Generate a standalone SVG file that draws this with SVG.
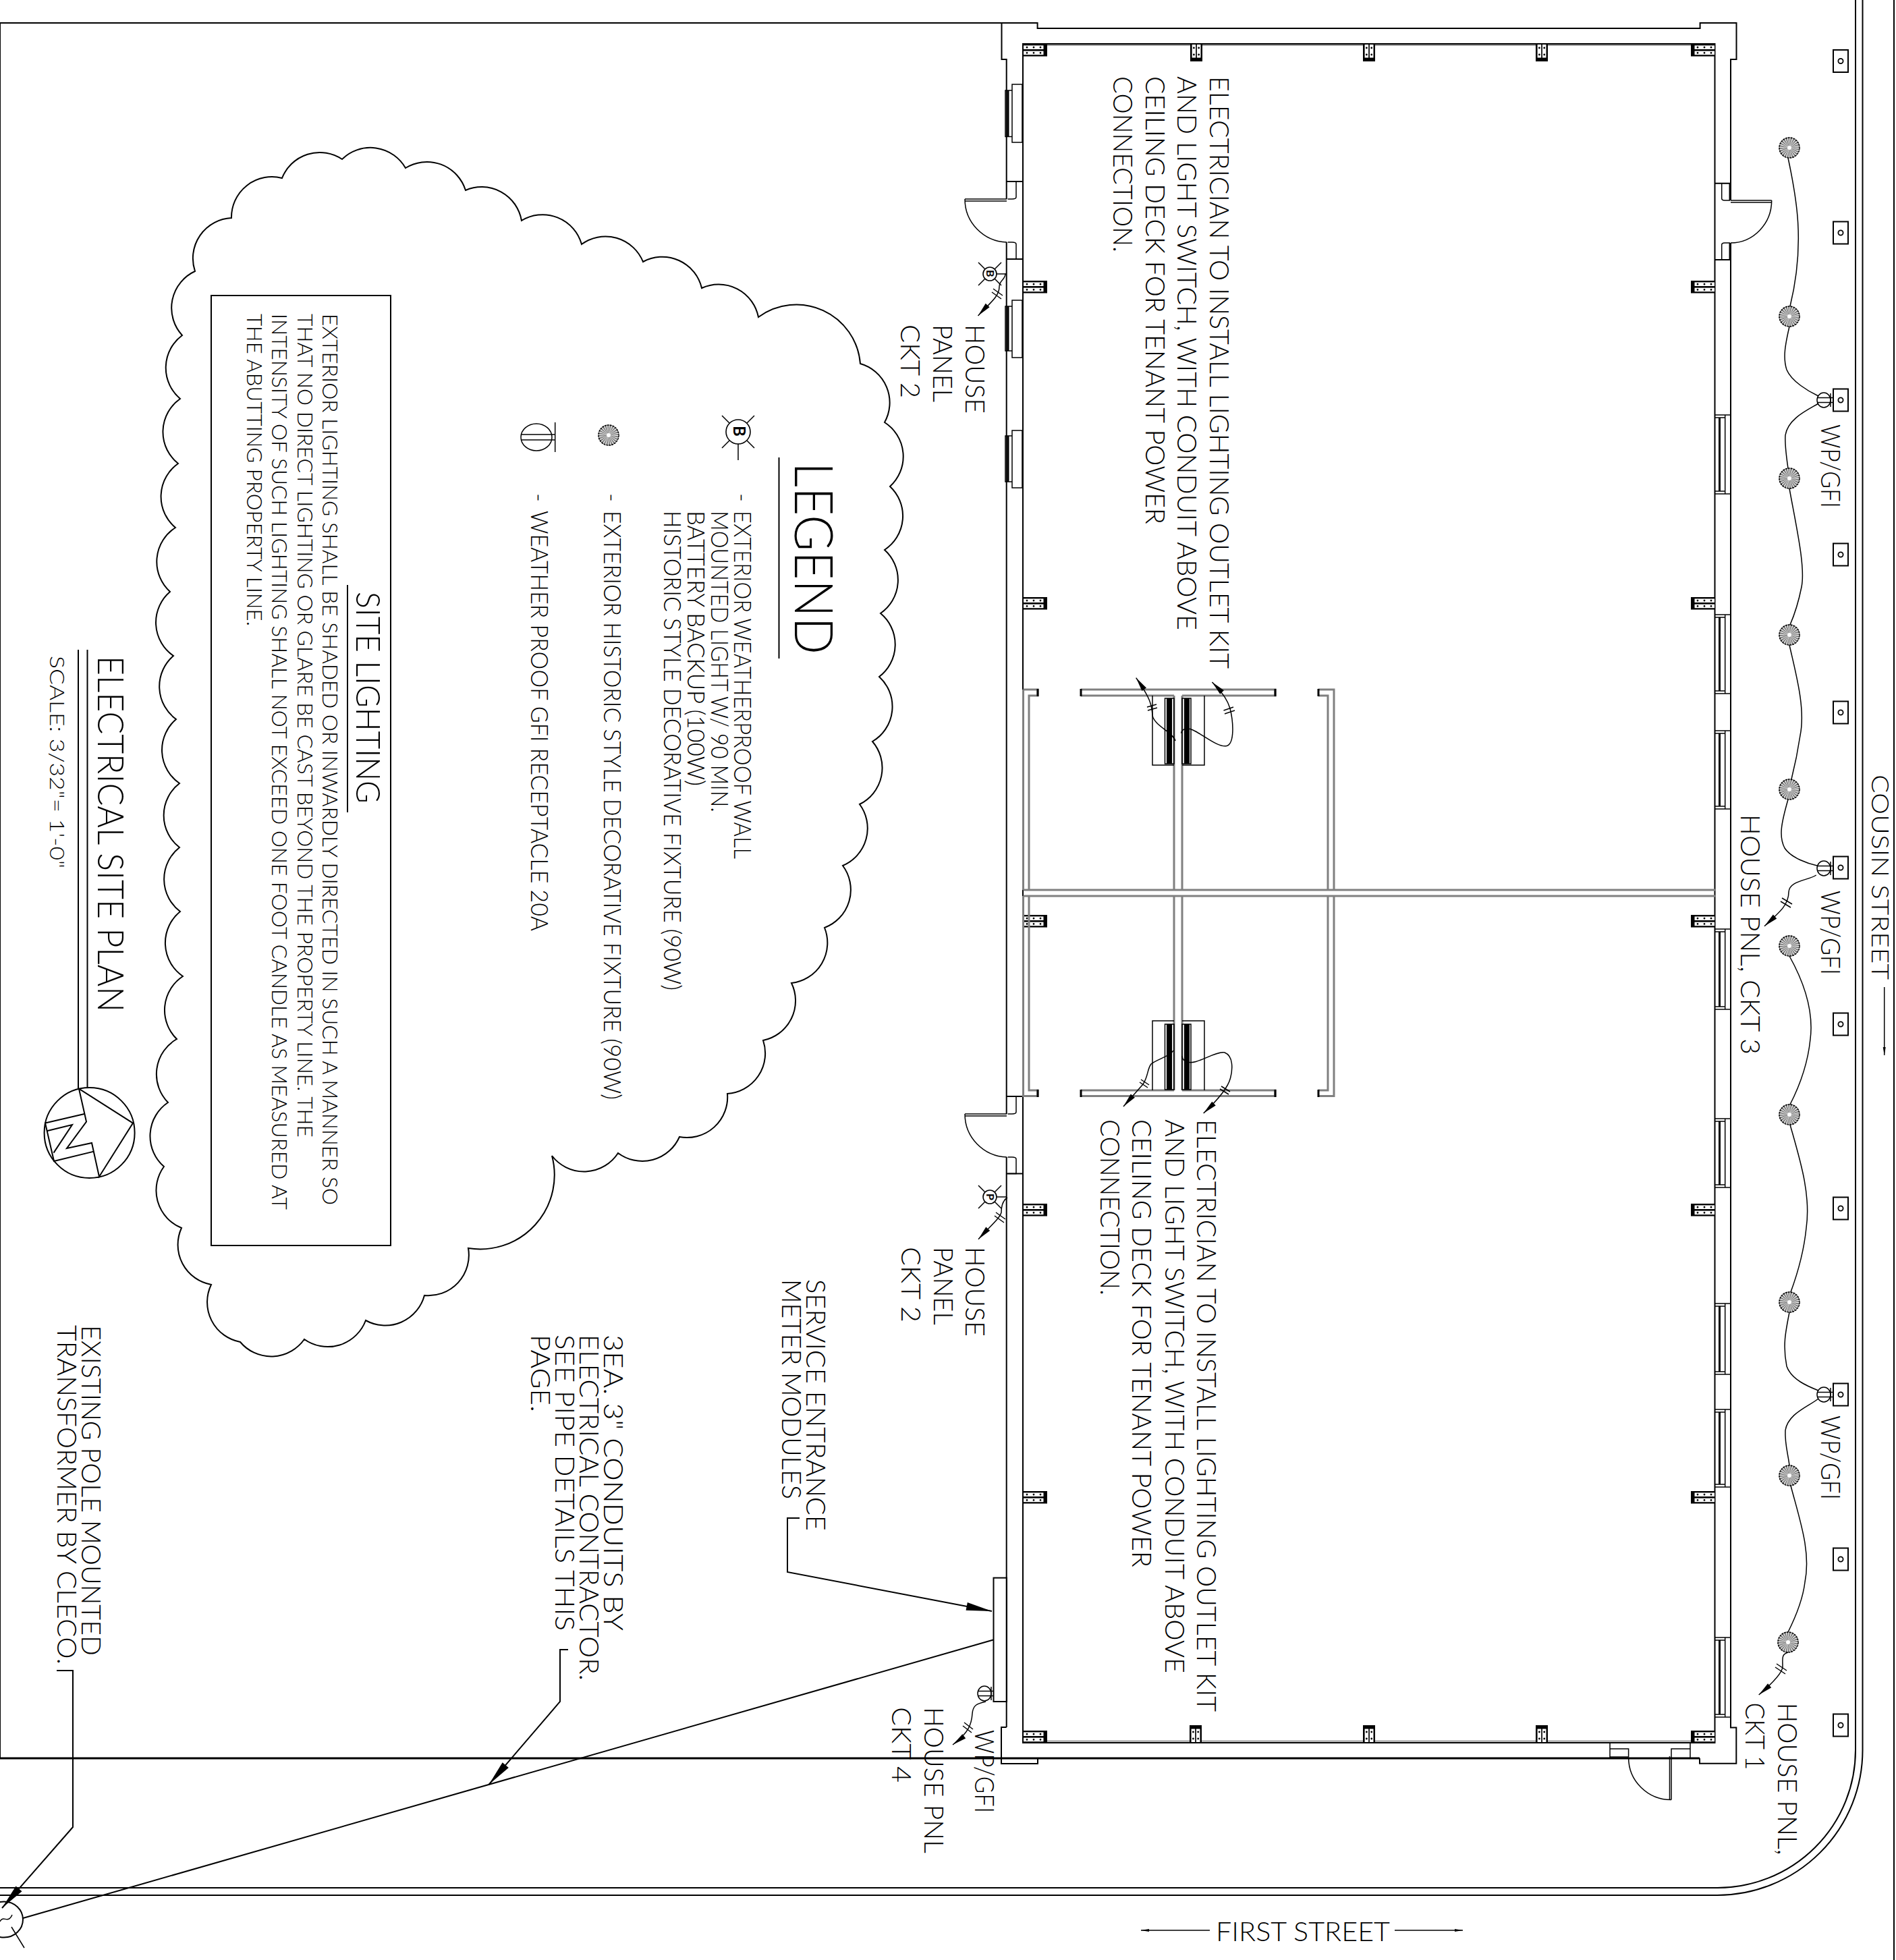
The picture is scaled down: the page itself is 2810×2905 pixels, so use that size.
<svg xmlns="http://www.w3.org/2000/svg" xmlns:xlink="http://www.w3.org/1999/xlink" width="2810" height="2905" viewBox="0 0 2810 2905">
<style>
text{font-family:"Lato","Liberation Sans",sans-serif;font-weight:300;fill:#000;}
.l{fill:none;stroke:#000;stroke-width:2;}
.t{fill:none;stroke:#000;stroke-width:1.5;}
.k{fill:none;stroke:#000;stroke-width:3;}
.g{fill:none;stroke:#808080;stroke-width:3;}
.f40{font-size:40px;}
.f36{font-size:35px;}
.f32{font-size:31px;}
</style>
<defs>
<marker id="big" markerUnits="userSpaceOnUse" markerWidth="42" markerHeight="16" refX="40" refY="8" orient="auto"><path d="M2 2L40 8L2 14Z" fill="#000"/></marker>
<marker id="small" markerUnits="userSpaceOnUse" markerWidth="24" markerHeight="10" refX="22" refY="5" orient="auto"><path d="M1 1L22 5L1 9Z" fill="#000"/></marker>
<marker id="tiny" markerUnits="userSpaceOnUse" markerWidth="14" markerHeight="6" refX="13" refY="3" orient="auto"><path d="M1 1L13 3L1 5Z" fill="#000"/></marker>
<g id="colS"><rect width="36" height="18.5" fill="#000"/><rect x="1" y="2.4" width="29.5" height="5.6" fill="#fff"/><rect x="1" y="10.6" width="29.5" height="5.6" fill="#fff"/><path d="M6 5.2h.01M16 5.2h.01M26 5.2h.01M6 13.4h.01M16 13.4h.01M26 13.4h.01" stroke="#000" stroke-width="2.8" stroke-linecap="round"/></g>
<g id="colT"><rect width="18" height="26" fill="#000"/><rect x="2.6" y="1" width="5.6" height="19.5" fill="#fff"/><rect x="9.9" y="1" width="5.6" height="19.5" fill="#fff"/><path d="M5.4 6v.01M5.4 16v.01M12.7 6v.01M12.7 16v.01" stroke="#000" stroke-width="2.8" stroke-linecap="round"/></g>
<g id="light"><circle r="15" fill="#808080" stroke="#000" stroke-width="1.6" stroke-dasharray="3 1"/><circle r="8.5" fill="none" stroke="#fff" stroke-width="12" stroke-dasharray=".7 1.525"/><circle r="3" fill="#fff"/></g>
<g id="box"><rect x="-11" y="-16.5" width="22" height="33" fill="#fff" stroke="#000" stroke-width="2"/><circle r="3.6" fill="none" stroke="#000" stroke-width="1.8"/></g>
<g id="recep"><ellipse rx="10" ry="11" fill="#fff" stroke="#000" stroke-width="1.5"/><path d="M-10-3.5H13M-10 3.5H13" class="t"/><path d="M10-10V10" class="t"/></g>
<g id="lamp"><circle r="10" fill="#fff" stroke="#000" stroke-width="1.6"/><path d="M7.5-7.5L17-17M-7.5-7.5L-17-17M7.5 7.5L17 17M-7.5 7.5L-17 17M10 0H25" class="t"/></g>
</defs>
<rect width="2810" height="2905" fill="#fff"/>

<g id="site">
<path d="M0 34H1484M0 34V2606" class="l"/>
<path d="M0 2606H2519" class="k"/>
<path d="M2750 0V2594A205 204 0 0 1 2545 2798H0" class="l"/>
<path d="M2760.5 0V2594A216 215 0 0 1 2545 2809H0" class="l"/>
<path d="M2807 0V2905" class="l"/>
</g>

<g id="building">
<path d="M1491.7 2560V1715M1491.7 1651V359M1491.7 295V88H1484.5V34H1537.6V42H2519.6V34H2573.5V88H2565V297M2565 360V2560.6H2573.3V2613.7H2519V2606M1491.7 2560H1484V2614H1538V2606" class="l"/>
<path d="M1516 65H2541.5V2583H1516Z" class="l"/>
<path d="M1518 67H2540M1518 2580.5H2540" fill="none" stroke="#808080" stroke-width="1.5"/>
<path d="M1492 269H1516M1492 384H1516M1492 1625H1516M1492 1739.5H1516M2541.5 271.7H2565M2541.5 385H2565" class="l"/>
<path id="door1" d="M1493.5 269H1506V292Q1506 295 1500 295H1493.5M1493.5 384H1506V362Q1506 359 1500 359H1493.5M1430 295H1492M1430 298H1492M1430 295A64 64 0 0 0 1492 359" class="t"/>
<path id="door2" d="M1493.5 1625H1506V1648Q1506 1651 1500 1651H1493.5M1493.5 1739.5H1506V1718Q1506 1715 1500 1715H1493.5M1430 1651H1492M1430 1654H1492M1430 1651A64 64 0 0 0 1492 1715" class="t"/>
<path id="door3" d="M2551.7 271.7V294Q2551.7 297 2556 297H2563.3V271.7M2551.7 385V363Q2551.7 360 2556 360H2563.3V385M2565 297H2625.7M2565 300H2625.7M2625.7 297A61 63 0 0 1 2565 360" class="t"/>
<path id="door4" d="M2386 2583V2606M2505 2583V2606M2386 2592H2413.6V2604H2386M2477 2604V2592H2505V2604M2477 2603V2667.6M2474.5 2603V2667.6M2477 2667.6A63.4 62.6 0 0 1 2413.6 2605" class="t"/>
<g id="windows-left">
<path d="M1500 125H1515V211H1500ZM1490 134H1500V202.5H1490ZM1500 445H1515V530H1500ZM1490 454H1500V520H1490ZM1500 638H1515V723H1500ZM1490 646H1500V714H1490Z" class="t"/>
<path d="M1494 134V202.5M1494 454V520M1494 646V714" class="k"/>
</g>
<g id="windows-right">
<path d="M2541.7 615H2565V732H2541.7M2556.7 615V732M2541.7 619H2556.7M2541.7 728H2556.7M2541.7 911H2565V1028H2541.7M2556.7 911V1028M2541.7 915H2556.7M2541.7 1024H2556.7M2541.7 1083H2565V1199H2541.7M2556.7 1083V1199M2541.7 1087H2556.7M2541.7 1195H2556.7M2541.7 1377H2565V1496H2541.7M2556.7 1377V1496M2541.7 1381H2556.7M2541.7 1492H2556.7M2541.7 1658H2565V1760H2541.7M2556.7 1658V1760M2541.7 1662H2556.7M2541.7 1756H2556.7M2541.7 1932H2565V2037H2541.7M2556.7 1932V2037M2541.7 1936H2556.7M2541.7 2033H2556.7M2541.7 2089H2565V2204H2541.7M2556.7 2089V2204M2541.7 2093H2556.7M2541.7 2200H2556.7M2541.7 2427H2565V2545H2541.7M2556.7 2427V2545M2541.7 2431H2556.7M2541.7 2541H2556.7" class="t"/>
<path d="M2548.5 619V728M2548.5 915V1024M2548.5 1087V1195M2548.5 1381V1492M2548.5 1662V1756M2548.5 1936V2033M2548.5 2093V2200M2548.5 2431V2541" class="k"/>
</g>
<g id="columns">
<use href="#colS" x="1516" y="65"/><use href="#colS" x="1516" y="416"/><use href="#colS" x="1516" y="885"/><use href="#colS" x="1516" y="1356"/><use href="#colS" x="1516" y="1784"/><use href="#colS" x="1516" y="2210"/><use href="#colS" x="1516" y="2565"/>
<use href="#colS" transform="translate(2542,65) scale(-1,1)"/><use href="#colS" transform="translate(2542,416) scale(-1,1)"/><use href="#colS" transform="translate(2542,885) scale(-1,1)"/><use href="#colS" transform="translate(2542,1356) scale(-1,1)"/><use href="#colS" transform="translate(2542,1784) scale(-1,1)"/><use href="#colS" transform="translate(2542,2210) scale(-1,1)"/><use href="#colS" transform="translate(2542,2565) scale(-1,1)"/>
<use href="#colT" x="1764" y="65"/><use href="#colT" x="2020" y="65"/><use href="#colT" x="2276" y="65"/>
<use href="#colT" transform="translate(1763,2583) scale(1,-1)"/><use href="#colT" transform="translate(2020,2583) scale(1,-1)"/><use href="#colT" transform="translate(2276,2583) scale(1,-1)"/>
</g>
<g id="partitions">
<path d="M1516.5 1319H2542M1516.5 1328H2542" class="g"/>
<path d="M1516.5 1022H1538V1031H1525V1319M1525 1328V1616H1538V1624.5H1516.5V1328M1516.5 1022V1319" class="g"/>
<path d="M1954 1022H1977V1319M1954 1031H1968V1319M1968 1328V1616H1954M1977 1328V1624.5H1954" class="g"/>
<path d="M1740 1031V1319M1752 1031V1319M1740 1328V1616M1752 1328V1616" class="g"/>
<path d="M1602 1022H1890V1031H1752M1740 1031H1602ZM1602 1624.5H1890V1616H1752M1740 1616H1602Z" class="g"/>
<path d="M1538 1021V1032M1538 1615V1626M1602 1021V1032M1602 1615V1626M1890 1021V1032M1890 1615V1626M1954 1021V1032M1954 1615V1626" class="k"/>
<path d="M1740 1134H1708V1031M1752 1134H1785V1031M1740 1513H1708V1616M1752 1513H1785V1616" class="t"/>
<path d="M1726.5 1035H1740V1132H1726.5ZM1752 1035H1765V1132H1752ZM1726.5 1518H1740V1615H1726.5ZM1752 1518H1765V1615H1752Z" class="t"/>
<path d="M1733 1035V1132M1759 1035V1132M1733 1518V1615M1759 1518V1615" fill="none" stroke="#000" stroke-width="8"/>
</g>
<g id="meter"><rect x="1472.5" y="2338.6" width="19.5" height="183.4" class="l"/></g>
</g>

<g id="fixtures">
<use href="#light" x="2652" y="219"/><use href="#light" x="2652" y="469"/><use href="#light" x="2652" y="709"/><use href="#light" x="2652" y="941"/><use href="#light" x="2652" y="1170"/><use href="#light" x="2652" y="1402"/><use href="#light" x="2652" y="1652"/><use href="#light" x="2652" y="1930"/><use href="#light" x="2652" y="2187"/><use href="#light" x="2650" y="2434"/>
<use href="#box" x="2728" y="90.5"/><use href="#box" x="2728" y="345"/><use href="#box" x="2728" y="593"/><use href="#box" x="2728" y="822"/><use href="#box" x="2728" y="1056"/><use href="#box" x="2728" y="1286"/><use href="#box" x="2728" y="1518"/><use href="#box" x="2728" y="1791"/><use href="#box" x="2728" y="2067"/><use href="#box" x="2728" y="2311"/><use href="#box" x="2728" y="2557"/>
<use href="#recep" x="2703" y="593"/><use href="#recep" x="2703" y="1287"/><use href="#recep" x="2703" y="2067"/><use href="#recep" x="1459" y="2510"/>
<g id="lamp-upper" transform="translate(1467,406)"><use href="#lamp"/><text transform="rotate(90)" x="-6" y="5" style="font-size:16px;font-weight:700">B</text></g>
<g id="lamp-lower" transform="translate(1467,1774)"><use href="#lamp"/><text transform="rotate(90)" x="-5" y="5" style="font-size:16px;font-weight:700">P</text></g>
</g>

<g id="connectors">
<path d="M2650 234C2662 290 2676 360 2653 454" class="t"/>
<path d="M2652 484C2646 510 2642 530 2648 548C2655 565 2680 580 2695 587" class="t"/>
<path d="M2695 598C2680 607 2650 620 2646 645C2645 660 2648 680 2650 694" class="t"/>
<path d="M2652 724C2662 780 2676 840 2670 870C2666 890 2660 910 2653 926" class="t"/>
<path d="M2652 956C2662 1000 2676 1050 2668 1090C2665 1110 2660 1135 2655 1155" class="t"/>
<path d="M2650 1185C2640 1220 2636 1240 2645 1257C2655 1272 2680 1280 2693 1283" class="t"/>
<path d="M2691.7 1297C2680 1305 2652 1305 2651 1322C2651 1340 2640 1350 2615 1372.7" class="t" marker-end="url(#small)"/>
<path d="M2641 1331L2656 1340M2639 1336L2654 1345" class="t"/>
<path d="M2652 1417C2676 1460 2688 1500 2683 1540C2680 1570 2672 1600 2653 1637" class="t"/>
<path d="M2653 1667C2668 1720 2684 1770 2677 1820C2674 1850 2665 1885 2654 1915" class="t"/>
<path d="M2652 1945C2646 1975 2642 1995 2648 2025C2655 2045 2680 2055 2695 2061" class="t"/>
<path d="M2695 2073C2680 2085 2650 2095 2646 2120C2645 2140 2650 2155 2652 2172" class="t"/>
<path d="M2654 2202C2668 2255 2684 2300 2675 2345C2672 2370 2662 2395 2650 2419" class="t"/>
<path d="M2650 2449C2640 2452 2642 2458 2642 2470C2642 2478 2630 2492 2606.7 2512" class="t" marker-end="url(#small)"/>
<path d="M2633 2466L2648 2476M2631 2471L2646 2481" class="t"/>
<path d="M1490 405.6C1490 415 1481 415 1481 425C1481 440 1466 450 1449.5 468" class="t" marker-end="url(#small)"/>
<path d="M1472 428L1486 438M1470 433L1484 443" class="t"/>
<path d="M1493 1775C1485 1780 1484 1790 1484 1797C1482 1805 1470 1815 1450 1836.7" class="t" marker-end="url(#small)"/>
<path d="M1476 1797L1490 1807M1474 1802L1488 1812" class="t"/>
<path d="M1461 2522C1448 2525 1442 2527 1441 2540C1440 2555 1436 2568 1412 2586" class="t" marker-end="url(#small)"/>
<path d="M1429 2553L1442 2563M1427 2558L1440 2568" class="t"/>
<path d="M1742 1098C1738 1085 1710 1075 1708 1060C1707 1045 1705 1035 1683.7 1004.6" class="t" marker-end="url(#small)"/>
<path d="M1700 1048L1714 1044M1701 1053L1715 1049" class="t"/>
<path d="M1750.5 1086.7C1752 1080 1760 1078 1768 1082C1785 1090 1805 1108 1818 1105.6C1830 1102 1828 1070 1823 1050C1820 1040 1815 1030 1796.4 1011" class="t" marker-end="url(#small)"/>
<path d="M1815 1058L1830 1053M1813.5 1053L1828 1048" class="t"/>
<path d="M1739 1557C1735 1565 1715 1570 1706 1577C1700 1585 1702 1595 1694 1607L1665 1640" class="t" marker-end="url(#small)"/>
<path d="M1691 1600L1703 1608M1689 1604L1701 1612" class="t"/>
<path d="M1752 1565C1752 1572 1760 1577 1772.4 1573.5C1785 1570 1805 1558 1815 1560C1828 1565 1827 1585 1823.5 1598C1820 1612 1805 1630 1783.7 1650" class="t" marker-end="url(#small)"/>
<path d="M1810 1610L1823 1618M1808 1614L1821 1622" class="t"/>
<path d="M1185 2250H1167V2330L1470 2388" class="l" marker-end="url(#big)"/>
<path d="M842 2445H830V2522L724.5 2645" class="l" marker-end="url(#big)"/>
<path d="M84 2476H108V2708L3 2828" class="l" marker-end="url(#big)"/>
<path d="M34 2843L1472 2430.5" class="l"/>
<path d="M2792.7 1463V1564" class="t" marker-end="url(#tiny)"/>
<path d="M1793 2861H1691" class="t" marker-end="url(#tiny)"/>
<path d="M2067 2861H2168" class="t" marker-end="url(#tiny)"/>
</g>

<g id="transformer">
<ellipse cx="6" cy="2845" rx="28" ry="26.5" class="l"/>
<path d="M0 2848C5 2838 12 2852 18 2838M17 2856L36 2887" class="t"/>
</g>

<g id="cloud">
<path class="l" d="M507 236A60 60 0 0 1 601 249A60 60 0 0 1 690 282A60 60 0 0 1 773 327A60 60 0 0 1 862 362A60 60 0 0 1 953 388A60 60 0 0 1 1040 427A60 60 0 0 1 1124 470A95 95 0 0 1 1275 539A60 60 0 0 1 1311 626A60 60 0 0 1 1319 721A60 60 0 0 1 1311 815A60 60 0 0 1 1305 909A60 60 0 0 1 1303 1003A60 60 0 0 1 1293 1099A60 60 0 0 1 1274 1192A60 60 0 0 1 1249 1283A60 60 0 0 1 1222 1375A60 60 0 0 1 1173 1457A60 60 0 0 1 1131 1542A60 60 0 0 1 1078 1621A60 60 0 0 1 1007 1685A60 60 0 0 1 916 1709A60 60 0 0 1 818 1713A110 110 0 0 1 694 1850A60 60 0 0 1 629 1920A60 60 0 0 1 542 1957A60 60 0 0 1 451 1985A60 60 0 0 1 356 1989A60 60 0 0 1 313 1904A60 60 0 0 1 269 1820A60 60 0 0 1 243 1729A60 60 0 0 1 249 1634A60 60 0 0 1 262 1540A60 60 0 0 1 271 1447A60 60 0 0 1 267 1351A60 60 0 0 1 266 1256A60 60 0 0 1 266 1161A60 60 0 0 1 261 1066A60 60 0 0 1 257 972A60 60 0 0 1 252 877A60 60 0 0 1 260 782A60 60 0 0 1 264 687A60 60 0 0 1 267 591A60 60 0 0 1 270 497A60 60 0 0 1 289 402A60 60 0 0 1 343 323A60 60 0 0 1 418 264A60 60 0 0 1 507 236Z"/>
</g>

<g id="legend">
<path d="M1154.5 678V976" class="l"/>
<text transform="translate(1178,685) rotate(90)" style="font-size:78px" textLength="285" lengthAdjust="spacingAndGlyphs">LEGEND</text>
<g id="legend-lamp" transform="translate(1094,640)"><circle r="18" fill="#fff" stroke="#000" stroke-width="1.6"/><path d="M13 13L24 24M-13 13L-24 24M13-13L24-24M-13-13L-24-24M0 18V42" class="t"/><text transform="rotate(90)" x="-9" y="7" style="font-size:24px;font-weight:700">B</text></g>
<use href="#light" x="902" y="645"/>
<g id="legend-recep"><ellipse cx="795" cy="648" rx="23" ry="20" class="t"/><path d="M772 644H822.7M772 652H822.7M822.7 626V670" class="t"/></g>
<text class="f36" transform="translate(1087.5,731) rotate(90)">-</text>
<text class="f36" transform="translate(1087.5,757) rotate(90)" textLength="516" lengthAdjust="spacingAndGlyphs">EXTERIOR WEATHERPROOF WALL</text>
<text class="f36" transform="translate(1054,757) rotate(90)" textLength="447" lengthAdjust="spacingAndGlyphs">MOUNTED LIGHT W/ 90 MIN.</text>
<text class="f36" transform="translate(1019,757) rotate(90)" textLength="408" lengthAdjust="spacingAndGlyphs">BATTERY BACKUP (100W)</text>
<text class="f36" transform="translate(984,757) rotate(90)" textLength="711" lengthAdjust="spacingAndGlyphs">HISTORIC STYLE DECORATIVE FIXTURE (90W)</text>
<text class="f36" transform="translate(895,731) rotate(90)">-</text>
<text class="f36" transform="translate(895,757) rotate(90)" textLength="873" lengthAdjust="spacingAndGlyphs">EXTERIOR HISTORIC STYLE DECORATIVE FIXTURE (90W)</text>
<text class="f36" transform="translate(787,731) rotate(90)">-</text>
<text class="f36" transform="translate(787,757) rotate(90)" textLength="623" lengthAdjust="spacingAndGlyphs">WEATHER PROOF GFI RECEPTACLE 20A</text>
</g>

<g id="site-lighting">
<rect x="313" y="438" width="266" height="1408" class="l"/>
<path d="M515 867V1204" class="l"/>
<text transform="translate(527.5,877) rotate(90)" style="font-size:50px" textLength="314" lengthAdjust="spacingAndGlyphs">SITE LIGHTING</text>
<text class="f32" transform="translate(478,465) rotate(90)" textLength="1321" lengthAdjust="spacingAndGlyphs">EXTERIOR LIGHTING SHALL BE SHADED OR INWARDLY DIRECTED IN SUCH A MANNER SO</text>
<text class="f32" transform="translate(441,465) rotate(90)" textLength="1221" lengthAdjust="spacingAndGlyphs">THAT NO DIRECT LIGHTING OR GLARE BE CAST BEYOND THE PROPERTY LINE. THE</text>
<text class="f32" transform="translate(403,465) rotate(90)" textLength="1328" lengthAdjust="spacingAndGlyphs">INTENSITY OF SUCH LIGHTING SHALL NOT EXCEED ONE FOOT CANDLE AS MEASURED AT</text>
<text class="f32" transform="translate(366,465) rotate(90)" textLength="463" lengthAdjust="spacingAndGlyphs">THE ABUTTING PROPERTY LINE.</text>
</g>

<g id="title">
<text transform="translate(145,972) rotate(90)" style="font-size:54px" textLength="528" lengthAdjust="spacingAndGlyphs">ELECTRICAL SITE PLAN</text>
<path d="M116 963V1613M129.5 963V1613" class="l"/>
<text transform="translate(74,972) rotate(90)" style="font-size:30px" textLength="315" lengthAdjust="spacingAndGlyphs">SCALE: 3/32"= 1'-0"</text>
</g>

<g id="north-arrow">
<circle cx="132.6" cy="1679" r="67" class="l"/>
<path d="M117 1613.7L128 1662.6L99 1702L136 1694L147 1744L197 1664.6Z" class="l"/>
<path d="M125 1651L67 1664.5L80 1721L139 1706.6M70.5 1676L107 1667L79.5 1708.6" class="l"/>
</g>

<g id="notes">
<text class="f40" transform="translate(1793,113) rotate(90)" textLength="878" lengthAdjust="spacingAndGlyphs">ELECTRICIAN TO INSTALL LIGHTING OUTLET KIT</text>
<text class="f40" transform="translate(1745,113) rotate(90)" textLength="821" lengthAdjust="spacingAndGlyphs">AND LIGHT SWITCH, WITH CONDUIT ABOVE</text>
<text class="f40" transform="translate(1698,113) rotate(90)" textLength="664" lengthAdjust="spacingAndGlyphs">CEILING DECK FOR TENANT POWER</text>
<text class="f40" transform="translate(1650,113) rotate(90)" textLength="261" lengthAdjust="spacingAndGlyphs">CONNECTION.</text>
<text class="f40" transform="translate(1774,1659) rotate(90)" textLength="878" lengthAdjust="spacingAndGlyphs">ELECTRICIAN TO INSTALL LIGHTING OUTLET KIT</text>
<text class="f40" transform="translate(1727,1659) rotate(90)" textLength="821" lengthAdjust="spacingAndGlyphs">AND LIGHT SWITCH, WITH CONDUIT ABOVE</text>
<text class="f40" transform="translate(1678,1659) rotate(90)" textLength="664" lengthAdjust="spacingAndGlyphs">CEILING DECK FOR TENANT POWER</text>
<text class="f40" transform="translate(1631,1659) rotate(90)" textLength="261" lengthAdjust="spacingAndGlyphs">CONNECTION.</text>
<text class="f40" transform="translate(1431,481) rotate(90)" textLength="132" lengthAdjust="spacingAndGlyphs">HOUSE</text>
<text class="f40" transform="translate(1383,481) rotate(90)" textLength="115" lengthAdjust="spacingAndGlyphs">PANEL</text>
<text class="f40" transform="translate(1335,481) rotate(90)" textLength="109" lengthAdjust="spacingAndGlyphs">CKT 2</text>
<text class="f40" transform="translate(1431,1848) rotate(90)" textLength="133" lengthAdjust="spacingAndGlyphs">HOUSE</text>
<text class="f40" transform="translate(1384,1848) rotate(90)" textLength="116" lengthAdjust="spacingAndGlyphs">PANEL</text>
<text class="f40" transform="translate(1336,1848) rotate(90)" textLength="112" lengthAdjust="spacingAndGlyphs">CKT 2</text>
<text class="f40" transform="translate(2699,629) rotate(90)" textLength="124" lengthAdjust="spacingAndGlyphs">WP/GFI</text>
<text class="f40" transform="translate(2699,1320) rotate(90)" textLength="125" lengthAdjust="spacingAndGlyphs">WP/GFI</text>
<text class="f40" transform="translate(2699,2098) rotate(90)" textLength="125" lengthAdjust="spacingAndGlyphs">WP/GFI</text>
<text class="f40" transform="translate(1445,2564) rotate(90)" textLength="123" lengthAdjust="spacingAndGlyphs">WP/GFI</text>
<text class="f40" transform="translate(2580,1207) rotate(90)" textLength="356" lengthAdjust="spacingAndGlyphs">HOUSE PNL, CKT 3</text>
<text class="f40" transform="translate(2635,2523.5) rotate(90)" textLength="226" lengthAdjust="spacingAndGlyphs">HOUSE PNL,</text>
<text class="f40" transform="translate(2587,2523.5) rotate(90)" textLength="100" lengthAdjust="spacingAndGlyphs">CKT 1</text>
<text class="f40" transform="translate(1370,2530) rotate(90)" textLength="217" lengthAdjust="spacingAndGlyphs">HOUSE PNL</text>
<text class="f40" transform="translate(1322,2530) rotate(90)" textLength="112" lengthAdjust="spacingAndGlyphs">CKT 4</text>
<text transform="translate(2774,1148) rotate(90)" style="font-size:36px" textLength="304" lengthAdjust="spacingAndGlyphs">COUSIN STREET</text>
<text class="f40" x="1802" y="2877" textLength="258" lengthAdjust="spacingAndGlyphs">FIRST STREET</text>
<text class="f40" transform="translate(1195,1896) rotate(90)" textLength="373" lengthAdjust="spacingAndGlyphs">SERVICE ENTRANCE</text>
<text class="f40" transform="translate(1159,1896) rotate(90)" textLength="326" lengthAdjust="spacingAndGlyphs">METER MODULES</text>
<text class="f40" transform="translate(895,1978) rotate(90)" textLength="439" lengthAdjust="spacingAndGlyphs">3EA. 3" CONDUITS BY</text>
<text class="f40" transform="translate(859,1978) rotate(90)" textLength="513" lengthAdjust="spacingAndGlyphs">ELECTRICAL CONTRACTOR.</text>
<text class="f40" transform="translate(823,1978) rotate(90)" textLength="439" lengthAdjust="spacingAndGlyphs">SEE PIPE DETAILS THIS</text>
<text class="f40" transform="translate(787,1978) rotate(90)" textLength="115" lengthAdjust="spacingAndGlyphs">PAGE.</text>
<text class="f40" transform="translate(121,1964) rotate(90)" textLength="490" lengthAdjust="spacingAndGlyphs">EXISTING POLE MOUNTED</text>
<text class="f40" transform="translate(85,1964) rotate(90)" textLength="503" lengthAdjust="spacingAndGlyphs">TRANSFORMER BY CLECO.</text>
</g>
</svg>
